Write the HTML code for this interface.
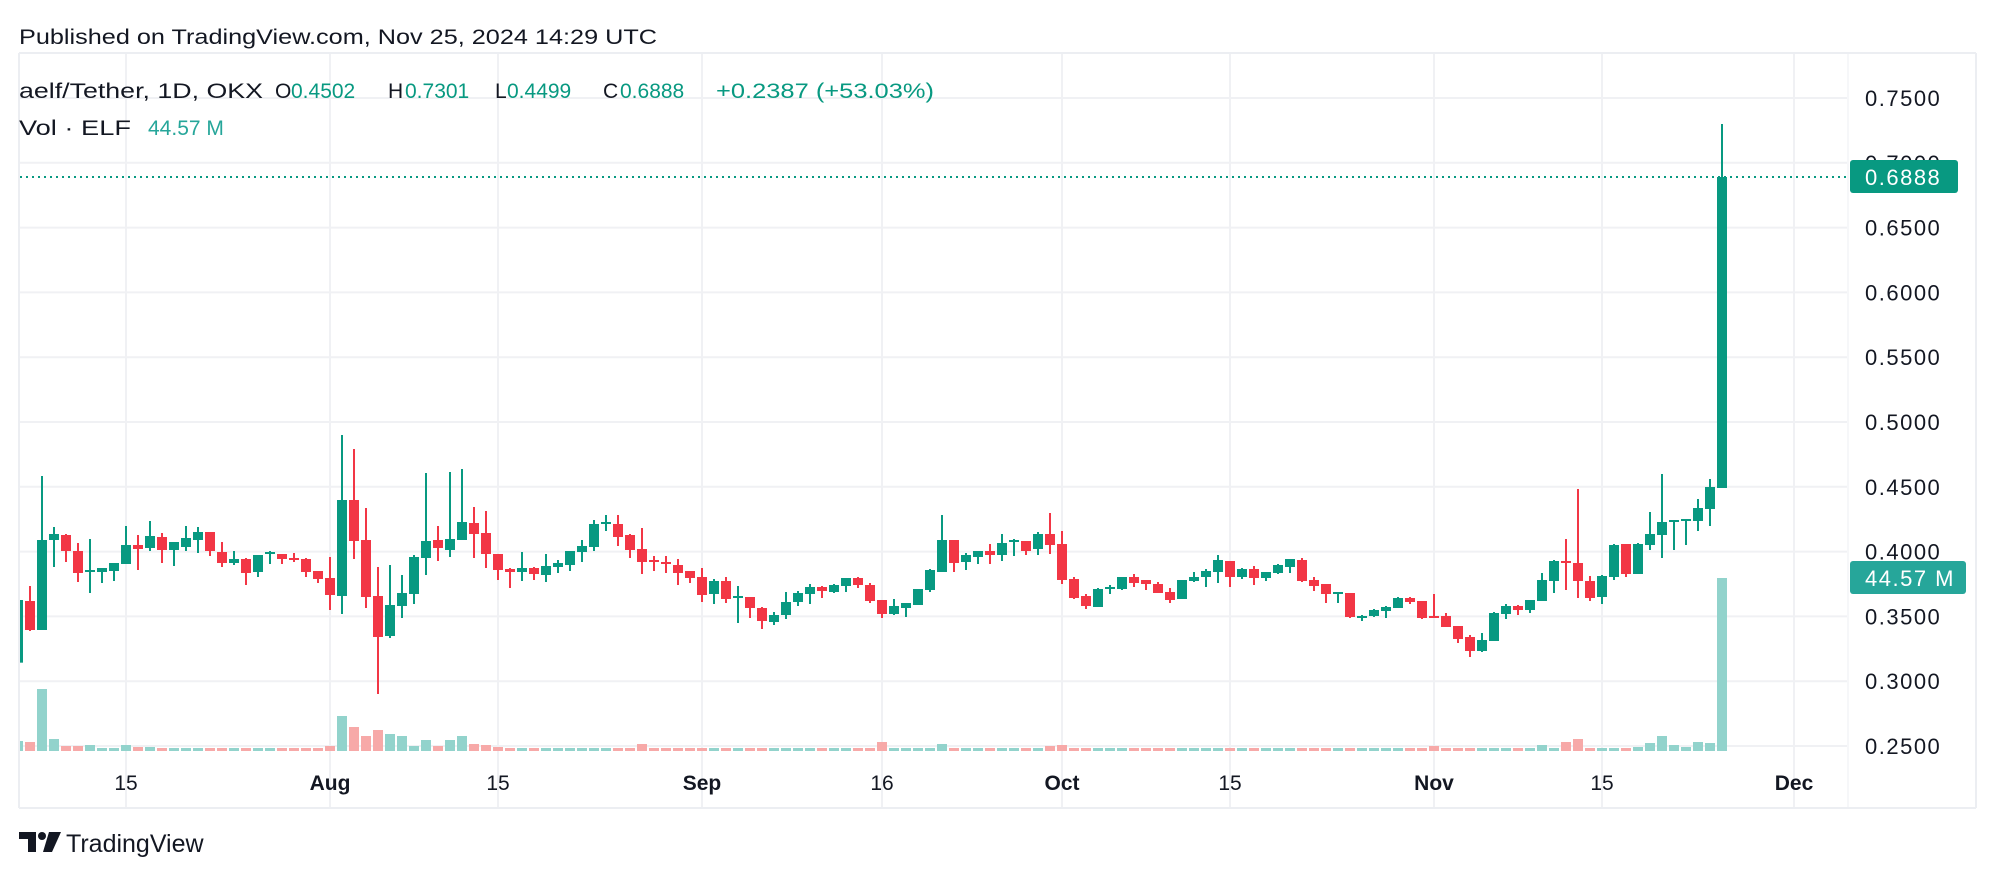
<!DOCTYPE html>
<html><head><meta charset="utf-8"><style>
html,body{margin:0;padding:0;background:#fff;width:1996px;height:878px;overflow:hidden}
svg{display:block}
text{font-family:"Liberation Sans",sans-serif}
</style></head><body>
<svg id="s" width="1996" height="878" xmlns="http://www.w3.org/2000/svg">
<defs><clipPath id="cp"><rect x="20" y="53" width="1828" height="755"/></clipPath></defs>
<rect width="1996" height="878" fill="#fff"/>
<g id="grid" stroke="#f0f1f4" stroke-width="2"></g>
<line x1="19" y1="53" x2="1976" y2="53" stroke="#eceef2" stroke-width="2"/>
<line x1="19" y1="808" x2="1976" y2="808" stroke="#eceef2" stroke-width="2"/>
<line x1="19" y1="53" x2="19" y2="808" stroke="#eceef2" stroke-width="2"/>
<line x1="1976" y1="53" x2="1976" y2="808" stroke="#eceef2" stroke-width="2"/>
<g id="vol" clip-path="url(#cp)"></g>
<g id="cnd" clip-path="url(#cp)"></g>
<line x1="20" y1="177" x2="1848" y2="177" stroke="#089981" stroke-width="2" stroke-dasharray="2,4"/>
<g id="ax" font-size="22" fill="#131722" letter-spacing="1.5"></g>
<rect x="1850" y="160" width="108" height="33" rx="3" fill="#089981"/>
<text x="1865" y="185" font-size="22" fill="#fff" letter-spacing="1.5">0.6888</text>
<rect x="1850" y="561" width="116" height="33" rx="3" fill="#26a69a"/>
<text x="1865" y="586" font-size="22" fill="#fff" letter-spacing="1.5">44.57 M</text>
<text x="19" y="44" font-size="21" fill="#131722" textLength="638" lengthAdjust="spacingAndGlyphs">Published on TradingView.com, Nov 25, 2024 14:29 UTC</text>
<g font-size="21">
<text x="19" y="98" fill="#131722" textLength="244" lengthAdjust="spacingAndGlyphs">aelf/Tether, 1D, OKX</text>
<text x="275" y="98" fill="#131722">O</text><text x="291" y="98" fill="#089981">0.4502</text>
<text x="388" y="98" fill="#131722">H</text><text x="405" y="98" fill="#089981">0.7301</text>
<text x="495" y="98" fill="#131722">L</text><text x="507" y="98" fill="#089981">0.4499</text>
<text x="603" y="98" fill="#131722">C</text><text x="620" y="98" fill="#089981">0.6888</text>
<text x="716" y="98" fill="#089981" textLength="218" lengthAdjust="spacingAndGlyphs">+0.2387 (+53.03%)</text>
<text x="19" y="135" fill="#131722" textLength="112" lengthAdjust="spacingAndGlyphs">Vol · ELF</text>
<text x="148" y="135" fill="#26a69a">44.57 M</text>
</g>
<g id="tl" font-size="21" fill="#131722" text-anchor="middle"></g>
<g transform="translate(19,832)">
<path d="M0 0 H17 V20 H9 V7 H0 Z" fill="#131722"/>
<circle cx="23" cy="4" r="4" fill="#131722"/>
<path d="M30 0 H42 L33 20 H24 Z" fill="#131722"/>
</g>
<text x="66" y="852" font-size="25" fill="#131722">TradingView</text>
</svg>
<script>
var NS="http://www.w3.org/2000/svg";
function el(p,t,a,txt){var e=document.createElementNS(NS,t);for(var k in a)e.setAttribute(k,a[k]);if(txt!=null)e.textContent=txt;document.getElementById(p).appendChild(e);return e;}
var ys=[];for(var k=0;k<=10;k++){var y=98+k*64.8;ys.push(y);el('grid','line',{x1:20,y1:y,x2:1848,y2:y});}
var vx=[126,330,498,702,882,1062,1230,1434,1602,1794];
vx.forEach(function(x){el('grid','line',{x1:x,y1:53,x2:x,y2:808});});
el('grid','line',{x1:1848,y1:53,x2:1848,y2:808,stroke:"#f6f7f9"});
var labs=["0.7500","0.7000","0.6500","0.6000","0.5500","0.5000","0.4500","0.4000","0.3500","0.3000","0.2500"];
labs.forEach(function(l,k){el('ax','text',{x:1865,y:ys[k]+8},l);});
var tl=[["15",126,0],["Aug",330,1],["15",498,0],["Sep",702,1],["16",882,0],["Oct",1062,1],["15",1230,0],["Nov",1434,1],["15",1602,0],["Dec",1794,1]];
tl.forEach(function(t){var a={x:t[1],y:790};if(t[2])a['font-weight']='bold';el('tl','text',a,t[0]);});
var D=[
['g',540,728,540,728,963],['r',543,630,498,633,966],['g',360,630,168,630,807],['g',342,360,321,441,957],['r',345,393,342,426,978],
['r',393,459,369,486,978],['g',450,456,357,519,975],['g',444,456,444,489,984],['g',429,453,429,483,984],['g',375,432,318,432,975],
['r',375,387,345,450,981],['g',348,384,303,393,981],['r',351,390,339,429,984],['g',366,390,366,438,984],['g',354,381,318,393,984],
['g',336,360,321,399,984],['r',336,393,336,408,987],['r',396,429,366,441,987],['g',417,429,393,435,987],['r',417,459,414,495,984],
['g',405,456,405,471,987],['g',396,402,393,432,987],['r',402,417,402,432,987],['r',414,420,399,426,987],['r',417,456,414,471,987],
['r',453,477,453,489,987],['r',474,525,411,570,978],['g',240,528,45,582,888],['r',240,363,87,417,921],['r',360,531,264,564,948],
['r',528,651,441,822,930],['g',555,648,435,654,942],['g',519,558,465,594,948],['g',411,522,405,552,978],['g',363,414,159,465,960],
['r',360,384,318,423,978],['g',357,390,156,411,960],['g',306,360,147,360,948],['r',309,342,261,414,972],['r',339,402,273,444,975],
['r',402,450,402,480,981],['r',447,456,444,504,984],['g',444,456,396,483,984],['r',444,462,441,480,987],['g',438,465,402,486,984],
['g',429,441,420,459,987],['g',393,435,393,453,987],['g',378,396,360,426,987],['g',312,381,300,393,984],['g',306,312,285,333,984],
['r',312,351,285,378,984],['r',345,390,342,414,984],['r',387,426,324,462,972],['r',420,426,408,453,984],['r',426,432,408,459,984],
['r',435,459,417,495,984],['r',453,474,453,489,987],['r',471,525,444,546,984],['g',483,522,477,552,987],['r',483,537,471,549,987],
['g',528,534,498,609,984],['r',531,564,531,594,987],['r',564,603,561,627,987],['g',585,606,576,615,987],['g',546,585,516,597,987],
['g',519,546,513,558,987],['g',501,522,492,552,987],['r',501,513,498,534,987],['g',495,516,492,519,987],['g',474,498,474,516,987],
['r',474,495,471,504,987],['r',495,543,489,549,984],['r',540,582,540,594,966],['g',558,582,537,585,987],['g',549,564,549,591,987],
['g',507,555,507,555,987],['g',450,510,447,516,984],['g',360,456,285,456,972],['r',360,429,360,456,987],['g',405,426,399,450,987],
['g',393,411,393,432,987],['r',393,405,372,432,984],['g',369,405,342,423,984],['g',360,366,357,408,987],['r',363,393,363,405,987],
['g',342,387,336,405,984],['r',342,375,279,402,978],['r',372,480,333,492,975],['r',477,534,471,537,987],['r',528,558,522,567,990],
['g',507,561,504,561,990],['g',501,507,495,522,990],['g',471,507,471,510,990],['r',471,489,462,501,990],['r',480,492,480,510,990],
['r',492,519,486,519,990],['r',516,540,504,549,990],['g',480,537,480,537,990],['g',471,483,456,486,990],['g',453,471,447,501,990],
['g',420,456,405,489,984],['r',423,471,423,501,984],['g',447,471,444,477,984],['r',447,474,438,495,990],['g',456,474,456,483,990],
['g',435,459,432,462,990],['g',417,441,417,459,990],['r',420,483,414,486,990],['r',480,498,471,513,990],['r',492,522,492,549,990],
['g',516,522,516,549,990],['r',519,591,519,594,990],['g',588,594,585,603,990],['g',570,588,567,591,990],['g',561,573,558,594,990],
['g',534,564,531,564,990],['r',534,546,531,552,990],['r',543,594,543,597,987],['r',588,594,522,594,978],['r',588,621,579,621,987],
['r',618,657,618,669,987],['r',651,693,645,711,984],['g',660,693,639,696,987],['g',579,663,576,663,984],['g',558,582,552,597,984],
['r',558,570,555,585,987],['g',540,570,540,579,987],['g',480,543,459,543,975],['g',423,483,420,519,984],['r',423,429,357,510,966],
['r',429,483,207,534,957],['r',483,534,468,543,984],['g',468,531,465,552,984],['g',375,471,372,480,984],['r',372,462,372,471,984],
['g',372,462,369,462,981],['g',342,375,276,390,969],['g',306,345,162,414,948],['g',300,306,300,390,975],['g',297,303,297,375,981],
['g',264,303,237,333,966],['g',201,267,177,318,969],['g',-729,204,-888,204,474]
];
function Y(v){return 420+v/3;}
D.forEach(function(d,i){
 var x=18+12*i, g=d[0]=='g';
 var c=g?'#089981':'#f23645', vc=g?'#92d3cc':'#f7a9a8';
 var vt=Y(d[5]); if(vt>748)vt=748;
 el('vol','rect',{x:x-5,y:vt,width:10,height:751-vt,fill:vc});
 el('cnd','rect',{x:x-1,y:Y(d[3]),width:2,height:Math.max(1,Y(d[4])-Y(d[3])),fill:c});
 el('cnd','rect',{x:x-5,y:Y(d[1]),width:10,height:Math.max(2,Y(d[2])-Y(d[1])),fill:c});
});
</script>
</body></html>
